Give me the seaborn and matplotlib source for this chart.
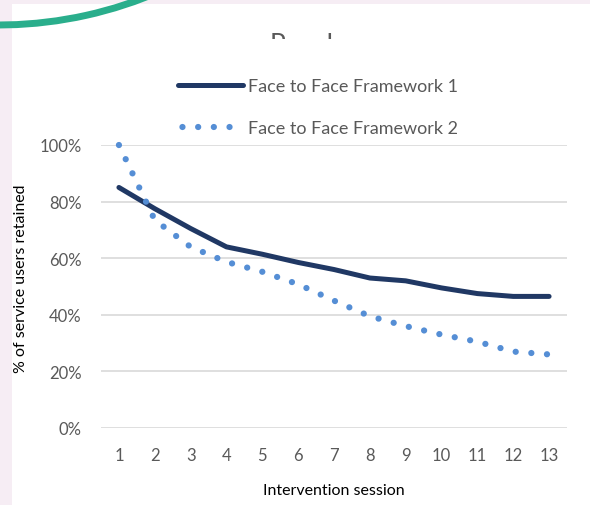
import matplotlib
matplotlib.use("Agg")
import matplotlib.pyplot as plt
from matplotlib.patches import Rectangle, Arc
from matplotlib.lines import Line2D
import pandas as pd
import seaborn as sns

# values (% of service users retained)
sessions = list(range(1, 14))
framework_1 = [85, 77.5, 70.5, 64, 61.4, 58.5, 56, 53, 52, 49.5, 47.5, 46.5, 46.5]
framework_2 = [100, 73.5, 64, 58.7, 55.2, 50.8, 45, 39.5, 36, 33, 30.5, 27, 26]
series_names = ["Face to Face Framework 1", "Face to Face Framework 2"]
y_ticks = [0, 20, 40, 60, 80, 100]

df = pd.DataFrame({
    "session": sessions * 2,
    "retained": framework_1 + framework_2,
    "series": [series_names[0]] * len(sessions) + [series_names[1]] * len(sessions),
})

sns.set_style("white")
plt.rcParams["font.family"] = ["Lato", "DejaVu Sans"]

GREY = "#595959"
NAVY = "#203864"
BLUE = "#558ed5"

fig = plt.figure(figsize=(5.9, 5.06), dpi=100)
fig.patch.set_facecolor("#f6edf4")

# white card behind the chart
fig.add_artist(Rectangle((12 / 590, 0), 1, 501 / 506, transform=fig.transFigure,
                         facecolor="white", edgecolor="none", zorder=0))
# decorative teal arc in the corner
fig.add_artist(Arc((-0.02, 8.87), 8.14, 8.14, theta1=-100, theta2=-55,
                   transform=fig.dpi_scale_trans, color="#2aae8c", lw=5, zorder=1))

# title, cut off by the slide
fig.text(302 / 590, 1 - 33 / 506, "Panel", ha="center", va="top", fontsize=19,
         color=GREY, zorder=3)
fig.add_artist(Rectangle((0.3, 1 - 72 / 506), 0.4, 32 / 506, transform=fig.transFigure,
                         facecolor="white", edgecolor="none", zorder=4))

ax = fig.add_axes([101 / 590, 1 - 429 / 506, 466 / 590, 283 / 506])
ax.set_facecolor("none")

sns.lineplot(data=df[df["series"] == series_names[0]], x="session", y="retained",
             color=NAVY, linewidth=3.6, solid_capstyle="round", ax=ax, clip_on=False)
sns.lineplot(data=df[df["series"] == series_names[1]], x="session", y="retained",
             color=BLUE, linewidth=4.5, linestyle=(0, (0.01, 2.5)),
             dash_capstyle="round", ax=ax, clip_on=False)

ax.set_xlim(0.5, 13.5)
ax.set_ylim(0, 100)
ax.set_xticks(sessions)
ax.set_yticks(y_ticks)
ax.set_yticklabels([f"{t}%" for t in y_ticks])
ax.yaxis.grid(True, color="#d9d9d9", linewidth=1.2)
ax.xaxis.grid(False)
ax.set_axisbelow(True)
sns.despine(ax=ax, left=True, bottom=True)
ax.tick_params(axis="both", length=0, labelsize=12, labelcolor=GREY, pad=14)

ax.set_xlabel("Intervention session", fontsize=11.5, color="black")
ax.set_ylabel("% of service users retained", fontsize=11.5, color="black")
ax.xaxis.set_label_coords(0.5, -0.195)
ax.yaxis.set_label_coords(-0.156, 0.53)

# legend: dotted handle shifted so it shows four dots like the original
dot_handle = Line2D([], [], color=BLUE, linewidth=4.5, linestyle=(1.8, (0.01, 2.5)),
                    dash_capstyle="round")
fig.legend([ax.lines[0], dot_handle], series_names, loc="center left",
           bbox_to_anchor=(178 / 590, 1 - 108 / 506), frameon=False, fontsize=13,
           labelcolor=GREY, handlelength=3.6, handletextpad=0.3, labelspacing=1.43,
           borderaxespad=0, borderpad=0)

fig.savefig("out.png", dpi=100, facecolor=fig.get_facecolor())
